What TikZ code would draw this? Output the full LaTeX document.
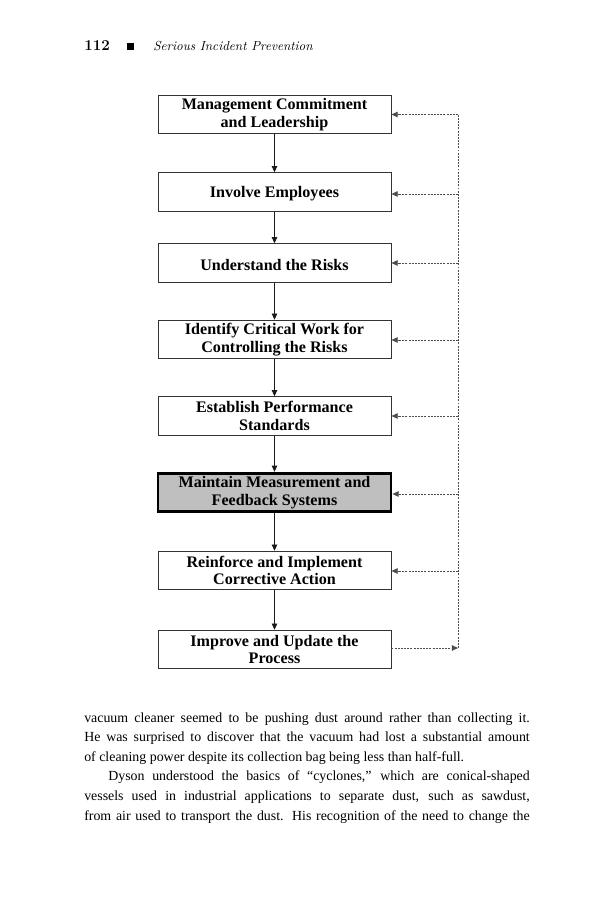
\documentclass[tikz,border=0pt]{standalone}
\usepackage{fontspec}
\newfontfamily\timesfont[Ligatures=TeX]{Liberation Serif}
\usetikzlibrary{arrows.meta}
\begin{document}
\begin{tikzpicture}[x=0.72727pt,y=-0.72727pt,
  stepbox/.style={draw=black!80, line width=0.7pt, minimum width=169.45pt, minimum height=28pt,
    inner sep=0pt, align=center, font=\timesfont\bfseries\fontsize{11.7}{12.9}\selectfont,
    execute at begin node={\rule{0pt}{11.2pt}}},
  keybox/.style={stepbox, fill=black!25, draw=black, line width=2.1pt},
  flow/.style={draw=black!90, line width=0.6pt, -{Triangle[length=4.5pt,width=4pt]}},
  fback/.style={draw=black!70, line width=0.5pt, dash pattern=on 1.4pt off 0.9pt, -{Triangle[length=4.5pt,width=4pt]}},
  fline/.style={draw=black!70, line width=0.5pt, dash pattern=on 1.4pt off 0.9pt},
  bodytext/.style={inner sep=0pt, anchor=base west, align=left, font=\timesfont\fontsize{10.1}{14.25}\selectfont}
]
\useasboundingbox[fill=white] (0,0) rectangle (594,900);

% header
\node[inner sep=0pt, anchor=base west, font=\bfseries\fontsize{11}{13}\selectfont] (pg) at (84,51) {112};
\fill (127,43.5) rectangle (134,50.5);
\node[inner sep=0pt, anchor=base west, font=\itshape\fontsize{9.5}{12}\selectfont] (title) at (153,51) {Serious Incident Prevention};

% boxes
\node[stepbox] (b1) at (274.5,114.5) {Management Commitment\\and Leadership};
\node[stepbox] (b2) at (274.5,192) {Involve Employees};
\node[stepbox] (b3) at (274.5,263) {Understand the Risks};
\node[stepbox] (b4) at (274.5,339.5) {Identify Critical Work for\\Controlling the Risks};
\node[stepbox] (b5) at (274.5,416) {Establish Performance\\Standards};
\node[keybox]  (b6) at (274.5,492.5) {Maintain Measurement and\\Feedback Systems};
\node[stepbox] (b7) at (274.5,570.5) {Reinforce and Implement\\Corrective Action};
\node[stepbox] (b8) at (274.5,649.5) {Improve and Update the\\Process};

\foreach \a/\b in {b1/b2,b2/b3,b3/b4,b4/b5,b5/b6,b6/b7,b7/b8}
  \draw[flow] (\a.south) -- (\b.north);

% feedback loop
\foreach \i/\yy in {1/114.5,2/194,3/263,4/340,5/416,6/494,7/571,8/648}
  \coordinate (r\i) at (458,\yy);
\draw[fline] (r8) -- (r1);
\foreach \i in {1,...,7}
  \draw[fback] (r\i) -- (r\i -| b\i.east);
\draw[fback] (r8 -| b8.east) -- (r8);

% body text (anchored at the baseline of its last line)
\node[bodytext] (body) at (84,820) {%
\makebox[324pt][s]{vacuum cleaner seemed to be pushing dust around rather than collecting it.}\\
\makebox[324pt][s]{He was surprised to discover that the vacuum had lost a substantial amount}\\
of cleaning power despite its collection bag being less than half-full.\\
\hspace*{17.5pt}\makebox[306.5pt][s]{Dyson understood the basics of “cyclones,” which are conical-shaped}\\
\makebox[324pt][s]{vessels used in industrial applications to separate dust, such as sawdust,}\\
\makebox[324pt][s]{from air used to transport the dust. His recognition of the need to change the}};
\end{tikzpicture}
\end{document}
